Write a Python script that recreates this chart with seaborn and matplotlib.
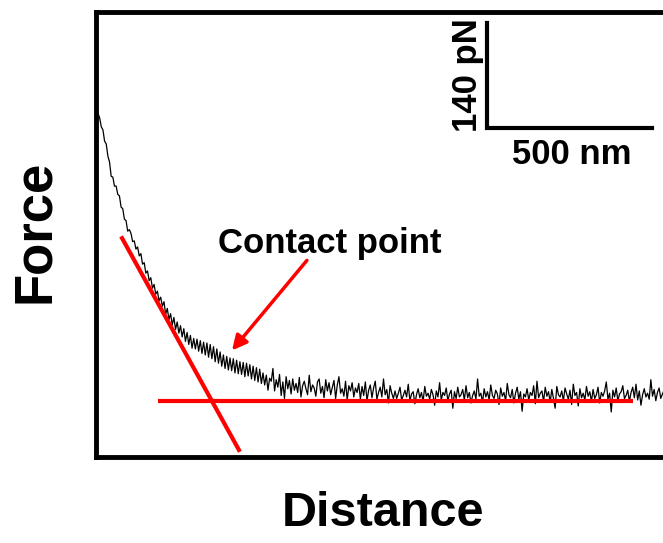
import numpy as np
import seaborn as sns
import matplotlib.pyplot as plt

# force curve sampled every 5 nm starting at 6 nm (values in pN)
step_nm = 5
start_nm = 6
force_pn = [
    384, 378, 366, 362, 347, 343, 327, 319, 300, 299, 287, 287, 276, 274, 259, 257, 243, 241, 227, 229,
    224, 213, 214, 203, 206, 194, 197, 183, 185, 171, 174, 161, 165, 151, 156, 143, 147, 134, 139, 127,
    133, 116, 124, 109, 117, 102, 112, 96, 106, 91, 101, 86, 97, 80, 92, 76, 88, 71, 84, 70,
    83, 67, 81, 64, 79, 62, 78, 59, 76, 57, 73, 53, 70, 51, 66, 47, 62, 44, 60, 42,
    58, 41, 57, 38, 55, 37, 53, 36, 52, 33, 51, 34, 49, 30, 47, 28, 45, 26, 43, 24,
    38, 22, 35, 15, 31, 27, 44, 14, 29, 19, 36, 8, 26, 4, 33, 17, 28, 10, 30, 15,
    24, 12, 32, 6, 21, 27, 17, 9, 35, 13, 22, 18, 7, 26, 30, 11, 20, 5, 29, 14,
    25, 9, 19, 28, 4, 22, 33, 11, 17, 7, 27, 2, 21, 14, 25, 6, 18, 12, 24, 3,
    20, 8, 26, 1, 15, 22, 5, 18, 27, 3, 12, 19, 6, 30, 9, 16, -2, 21, 11, 4,
    14, 4, 11, 19, 2, 8, 15, 6, 23, 1, 10, 13, -3, 9, 17, 5, 12, 0, 20, 7,
    11, 3, 16, 9, -5, 14, 6, 25, 2, 12, 8, 18, 1, 10, 15, -9, 13, 4, 19, 6,
    9, 16, 2, 21, 5, 12, -2, 8, 14, 3, 30, 7, 11, -1, 17, 6, 13, 2, 22, 8,
    4, 15, 10, -4, 18, 7, 12, 1, 24, 9, 5, 16, -2, 11, 19, 3, 13, -13, 10, 6,
    17, 2, 12, 8, 21, -3, 27, 5, 11, 14, 0, 19, 7, 13, -1, 16, 4, -9, 20, 9,
    6, 14, 1, 18, 10, 3, 15, -4, 23, 8, 12, -6, 17, 5, 11, 2, 20, 7, 13, 0,
    16, 4, 9, 19, -2, 12, 7, 14, 26, 3, 11, -14, 15, 6, 18, 1, 10, 13, 21, 4,
    8, 15, 0, 12, 19, 5, 23, 2, 14, -5, 9, 17, 6, 11, 3, 29, 7, 16, 1, 12,
    18, 4, 10, 15, 2, 13, 8,
]
distance_nm = start_nm + step_nm * np.arange(len(force_pn))

# fitted lines used to find the contact point
slope_x = [76, 436]
slope_y = [220, -67]
base_x = [188, 1627]
base_y = [0, 0]

# scale bar: 500 nm x 140 pN
bar_x0, bar_y0 = 1185, 364.6
bar_dx, bar_dy = 500, 140

sns.set_style("white")
plt.rcParams["font.family"] = ["Liberation Sans", "DejaVu Sans"]
plt.rcParams["font.weight"] = "bold"
plt.rcParams["text.color"] = "black"

fig = plt.figure(figsize=(6.63, 5.43), dpi=100)
ax = fig.add_axes([96 / 663, 86 / 543, 574 / 663, 445 / 543])

sns.lineplot(x=distance_nm, y=force_pn, color="black", linewidth=0.9, ax=ax)
ax.plot(slope_x, slope_y, color="#ff0000", linewidth=3, solid_capstyle="butt")
ax.plot(base_x, base_y, color="#ff0000", linewidth=3, solid_capstyle="butt")

ax.plot([bar_x0, bar_x0, bar_x0 + bar_dx], [bar_y0 + bar_dy, bar_y0, bar_y0],
        color="black", linewidth=3, solid_capstyle="projecting",
        solid_joinstyle="miter")
ax.text(bar_x0 - 60, bar_y0 + bar_dy / 2 + 1, "140 pN", rotation=90,
        ha="center", va="center", fontsize=25, fontweight="bold")
ax.text(bar_x0 + bar_dx / 2 + 5, bar_y0 - 36, "500 nm",
        ha="center", va="center", fontsize=25, fontweight="bold")

ax.text(709, 210, "Contact point", ha="center", va="center",
        fontsize=25, fontweight="bold")
ax.annotate("", xy=(412, 68), xytext=(639, 188),
            arrowprops=dict(arrowstyle="-|>", color="#ff0000", lw=2.5,
                            mutation_scale=22, shrinkA=0, shrinkB=0))

ax.set_xlim(0, 1739)
ax.set_ylim(-74, 519)
ax.set_xticks([])
ax.set_yticks([])
for side in ["left", "top", "bottom"]:
    ax.spines[side].set_linewidth(3.5)
    ax.spines[side].set_color("black")
ax.spines["right"].set_visible(False)

fig.text(383 / 663, 1 - 514 / 543, "Distance", ha="center", va="center",
         fontsize=35, fontweight="bold")
fig.text(35 / 663, 1 - 231 / 543, "Force", rotation=90, ha="center",
         va="center", fontsize=38, fontweight="bold")

fig.savefig("out.png", dpi=100)
